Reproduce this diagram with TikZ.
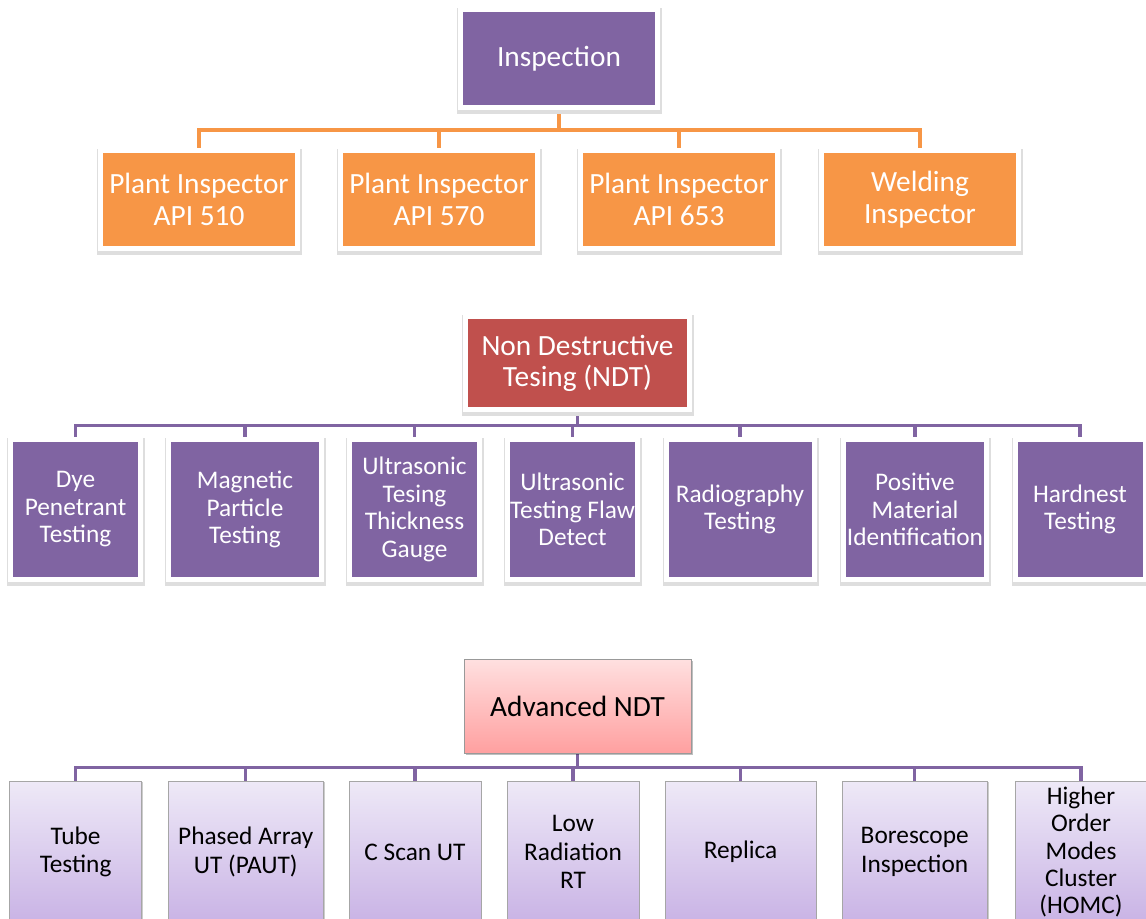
\documentclass[tikz,border=0pt]{standalone}
\usepackage{fontspec}
\setmainfont{Carlito}
\usepackage{xcolor}
\usetikzlibrary{shadows,backgrounds}

\definecolor{offorange}{HTML}{F79646}
\definecolor{offpurple}{HTML}{8064A2}
\definecolor{offred}{HTML}{C0504D}
\definecolor{lavtop}{HTML}{EEE9F7}
\definecolor{lavbot}{HTML}{C9B3E5}
\definecolor{pinktop}{HTML}{FFE0E0}
\definecolor{pinkbot}{HTML}{FFA0A0}

\begin{document}
\begin{tikzpicture}[x=0.75pt,y=-0.75pt,
    framed/.style={draw=white, line width=3.75pt, inner sep=0pt, align=center, text=white,
      preaction={draw=black!13, line width=6pt, transform canvas={xshift=0.6pt, yshift=-1.6pt}}},
    headbox/.style={framed, minimum width=147.75pt, minimum height=73.5pt,
      font=\fontsize{22}{24}\selectfont},
    rolebox/.style={framed, fill=offorange, minimum width=147.75pt, minimum height=73.5pt,
      font=\fontsize{22}{24}\selectfont},
    methodbox/.style={framed, fill=offpurple, minimum height=105pt,
      font=\fontsize{19}{20.6}\selectfont},
    advhead/.style={draw=black!40, line width=0.75pt, top color=pinktop, bottom color=pinkbot,
      minimum width=170.25pt, minimum height=70.5pt, inner sep=0pt,
      font=\fontsize{22}{24}\selectfont,
      drop shadow={shadow xshift=1.2pt, shadow yshift=-1.5pt, opacity=0.25, fill=black}},
    advbox/.style={draw=black!35, line width=0.75pt, top color=lavtop, bottom color=lavbot,
      minimum height=106.5pt, inner sep=0pt, align=center,
      font=\fontsize{19}{21.4}\selectfont,
      drop shadow={shadow xshift=1pt, shadow yshift=-1pt, opacity=0.2, fill=black}},
    orangeline/.style={draw=offorange, line width=3pt},
    purpleline/.style={draw=offpurple, line width=2.6pt}]
    \useasboundingbox (0,0) rectangle (1146,919);
    \clip (0,0) rectangle (1146,919);

    % Inspection
    \node[headbox, fill=offpurple] (insp) at (559,58.5) {Inspection};
    \node[rolebox] (api510) at (199,199.5) {Plant Inspector\\API 510};
    \node[rolebox] (api570) at (439,199.5) {Plant Inspector\\API 570};
    \node[rolebox] (api653) at (679,199.5) {Plant Inspector\\API 653};
    \node[rolebox] (weld) at (920,199.5) {Welding\\Inspector};

    % Non destructive testing
    \node[headbox, fill=offred, minimum width=168pt, minimum height=69.75pt,
      font=\fontsize{22}{23.25}\selectfont] (ndt) at (577.5,363) {Non Destructive\\Tesing (NDT)};
    \node[methodbox, minimum width=97.5pt] (dye) at (75.5,509.5) {Dye\\Penetrant\\Testing};
    \node[methodbox, minimum width=114.75pt] (mag) at (245,509.5) {Magnetic\\Particle\\Testing};
    \node[methodbox, minimum width=97.5pt] (utg) at (414.5,509.5) {Ultrasonic\\Tesing\\Thickness\\Gauge};
    \node[methodbox, minimum width=97.5pt] (utf) at (572.5,509.5) {Ultrasonic\\Testing Flaw\\Detect};
    \node[methodbox, minimum width=111pt] (rt) at (740,509.5) {Radiography\\Testing};
    \node[methodbox, minimum width=107.25pt] (pmi) at (915,509.5) {Positive\\Material\\Identification};
    \node[methodbox, minimum width=97.5pt] (hard) at (1080,509.5) {Hardnest\\Testing};

    % Advanced NDT
    \node[advhead] (adv) at (577.5,706) {Advanced NDT};
    \node[advbox, minimum width=99pt] (tube) at (75.6,852) {Tube\\Testing};
    \node[advbox, minimum width=116.25pt] (paut) at (245.7,852) {Phased Array\\UT (PAUT)};
    \node[advbox, minimum width=99pt] (cscan) at (415,852) {C Scan UT};
    \node[advbox, minimum width=99pt] (lowrt) at (573,852) {Low\\Radiation\\RT};
    \node[advbox, minimum width=113.25pt] (replica) at (740.5,852) {Replica};
    \node[advbox, minimum width=108.75pt] (bore) at (914.7,852) {Borescope\\Inspection};
    \node[advbox, minimum width=99pt, font=\fontsize{19}{20.5}\selectfont] (homc) at (1081,852)
      {Higher\\Order\\Modes\\Cluster\\(HOMC)};

    % Connectors
    \begin{scope}[on background layer]
      \draw[orangeline] (insp.south) -- ++(0,20.5) coordinate (ibus);
      \foreach \c in {api510,api570,api653,weld}
        \draw[orangeline] (ibus) -| (\c.north);
      \draw[purpleline] (ndt.south) -- ++(0,13.5) coordinate (nbus);
      \foreach \c in {dye,mag,utg,utf,rt,pmi,hard}
        \draw[purpleline] (nbus) -| (\c.north);
      \draw[purpleline] (adv.south) -- ++(0,14) coordinate (abus);
      \foreach \c in {tube,paut,cscan,lowrt,replica,bore,homc}
        \draw[purpleline] (abus) -| (\c.north);
    \end{scope}
\end{tikzpicture}
\end{document}
